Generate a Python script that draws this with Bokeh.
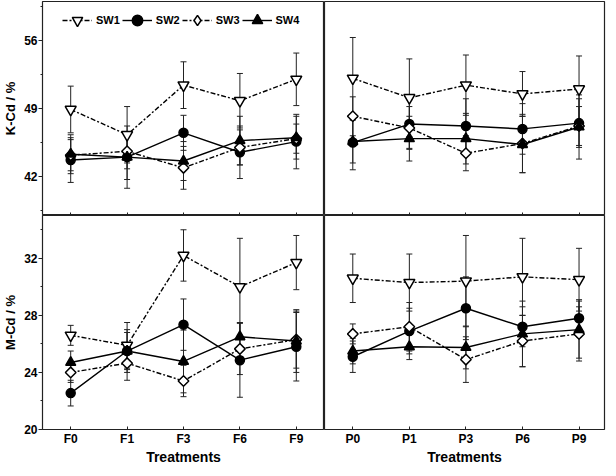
from bokeh.plotting import figure
from bokeh.layouts import gridplot
from bokeh.models import (ColumnDataSource, Whisker, TeeHead, FixedTicker, Range1d,
                          CustomLabelingPolicy, Legend, LegendItem)
from bokeh.embed import file_html
from bokeh.resources import INLINE
import math

# ---------------- data ----------------
cats_F = ["F0", "F1", "F3", "F6", "F9"]
cats_P = ["P0", "P1", "P3", "P6", "P9"]
series = ["SW1", "SW2", "SW3", "SW4"]

# K-Cd / %
K_F_SW1 = [48.9, 46.3, 51.4, 49.8, 52.0]
K_F_SW2 = [43.7, 44.0, 46.5, 44.5, 45.6]
K_F_SW3 = [44.2, 44.6, 42.9, 45.0, 45.9]
K_F_SW4 = [44.3, 44.0, 43.6, 45.7, 46.0]
K_F_SW1_err = [2.4, 2.9, 2.4, 2.8, 2.7]
K_F_SW2_err = [2.3, 3.2, 1.8, 2.7, 2.8]
K_F_SW3_err = [1.6, 1.8, 2.2, 1.8, 1.5]
K_F_SW4_err = [2.0, 2.3, 2.0, 2.5, 2.2]

K_P_SW1 = [52.1, 50.1, 51.4, 50.5, 51.0]
K_P_SW2 = [45.5, 47.4, 47.2, 46.9, 47.5]
K_P_SW3 = [48.2, 47.0, 44.4, 45.4, 47.2]
K_P_SW4 = [45.6, 45.9, 45.9, 45.3, 47.1]
K_P_SW1_err = [4.2, 4.0, 3.1, 2.3, 3.4]
K_P_SW2_err = [2.8, 2.5, 2.8, 2.6, 2.5]
K_P_SW3_err = [2.0, 2.2, 1.8, 3.0, 2.0]
K_P_SW4_err = [2.2, 2.3, 2.6, 2.9, 3.3]

# M-Cd / %
M_F_SW1 = [26.6, 25.9, 32.2, 30.0, 31.7]
M_F_SW2 = [22.55, 25.5, 27.35, 24.86, 25.8]
M_F_SW3 = [24.0, 24.65, 23.4, 25.65, 26.3]
M_F_SW4 = [24.7, 25.5, 24.77, 26.5, 26.2]
M_F_SW1_err = [0.7, 1.6, 1.8, 3.4, 1.9]
M_F_SW2_err = [0.9, 1.5, 1.8, 2.6, 2.4]
M_F_SW3_err = [0.7, 1.2, 1.1, 1.8, 2.0]
M_F_SW4_err = [0.8, 1.3, 2.2, 1.0, 2.2]

M_P_SW1 = [30.6, 30.3, 30.4, 30.7, 30.5]
M_P_SW2 = [25.1, 26.9, 28.5, 27.2, 27.8]
M_P_SW3 = [26.7, 27.2, 24.9, 26.2, 26.7]
M_P_SW4 = [25.5, 25.8, 25.75, 26.7, 27.0]
M_P_SW1_err = [1.7, 2.0, 3.2, 2.7, 2.2]
M_P_SW2_err = [1.1, 1.6, 2.2, 1.4, 1.3]
M_P_SW3_err = [0.7, 1.7, 1.6, 1.8, 1.9]
M_P_SW4_err = [0.9, 0.9, 1.5, 2.3, 2.0]

K_ticks = [42, 49, 56]
K_minor = [38.5, 45.5, 52.5, 59.5]
M_ticks = [20, 24, 28, 32]
M_minor = [22, 26, 30, 34]

# ---------------- style ----------------
FONT = "Liberation Sans"
styles = {
    "SW1": dict(marker="inverted_triangle", size=11, fill="white", dash="5 2 2 2", angle=0),
    "SW2": dict(marker="circle", size=9, fill="black", dash="solid", angle=0),
    "SW3": dict(marker="square", size=7.5, fill="white", dash="5 2 2 2", angle=math.pi / 4),
    "SW4": dict(marker="triangle", size=10, fill="black", dash="solid", angle=0),
}
legend_markers = {"SW1": "inverted_triangle", "SW2": "circle", "SW3": "diamond", "SW4": "triangle"}

FH = 214
INK = "#222222"


def panel(cats, vals, errs, yr, yticks, yminor, left, bottom, legend=False, yaxis_label=""):
    xend = 4.5 if left else 4.45
    p = figure(
        frame_width=282 if left else 280,
        frame_height=FH,
        x_range=Range1d(-0.5, xend),
        y_range=Range1d(*yr),
        output_backend="svg",
        toolbar_location=None,
        y_axis_location="left" if left else None,
        min_border_left=0,
        min_border_right=0 if left else 2,
        min_border_top=0 if bottom else 1,
        min_border_bottom=0,
        background_fill_color="white",
        border_fill_color="white",
    )
    p.outline_line_color = INK
    p.outline_line_width = 1.2
    p.xgrid.visible = False
    p.ygrid.visible = False

    xs = list(range(len(cats)))
    # x axis
    xa = p.xaxis[0]
    xa.ticker = FixedTicker(ticks=xs)
    xa.major_label_overrides = {i: c for i, c in enumerate(cats)}
    xa.axis_line_color = None
    xa.major_tick_in = 3
    xa.major_tick_out = 0
    xa.major_tick_line_color = INK
    xa.minor_tick_line_color = None
    if bottom:
        xa.major_label_text_font = FONT
        xa.major_label_text_font_style = "bold"
        xa.major_label_text_font_size = "12px"
        xa.major_label_text_color = "black"
        xa.major_label_standoff = 2
        xa.axis_label = "Treatments"
        xa.axis_label_text_font = FONT
        xa.axis_label_text_font_style = "bold"
        xa.axis_label_text_font_size = "14px"
        xa.axis_label_text_color = "black"
        xa.axis_label_standoff = 0
    else:
        # upper panels: tick marks only, no tick labels
        xa.major_label_policy = CustomLabelingPolicy(code="return []")
        xa.major_label_text_font_size = "0px"
        xa.major_label_standoff = 0

    if left:
        ya = p.yaxis[0]
        ya.ticker = FixedTicker(ticks=yticks, minor_ticks=yminor)
        ya.axis_line_color = None
        ya.major_tick_in = 0
        ya.major_tick_out = 4
        ya.minor_tick_in = 0
        ya.minor_tick_out = 2
        ya.major_tick_line_color = INK
        ya.minor_tick_line_color = INK
        ya.major_label_text_font = FONT
        ya.major_label_text_font_style = "bold"
        ya.major_label_text_font_size = "12px"
        ya.major_label_text_color = "black"
        ya.major_label_standoff = 1
        ya.axis_label = yaxis_label
        ya.axis_label_text_font = FONT
        ya.axis_label_text_font_style = "bold"
        ya.axis_label_text_font_size = "13px"
        ya.axis_label_text_color = "black"
        ya.axis_label_standoff = 3

    for name, v, e in zip(series, vals, errs):
        src = ColumnDataSource(dict(
            x=xs, y=v,
            upper=[a + b for a, b in zip(v, e)],
            lower=[a - b for a, b in zip(v, e)],
        ))
        w = Whisker(source=src, base="x", upper="upper", lower="lower",
                    line_color=INK, line_width=1,
                    upper_head=TeeHead(size=6, line_color=INK, line_width=1),
                    lower_head=TeeHead(size=6, line_color=INK, line_width=1))
        p.add_layout(w)

    items = []
    for name, v in zip(series, vals):
        st = styles[name]
        src = ColumnDataSource(dict(x=xs, y=v))
        lr = p.line("x", "y", source=src, line_color="black", line_width=1.4,
                    line_dash=st["dash"])
        sr = p.scatter("x", "y", source=src, marker=st["marker"], size=st["size"],
                       angle=st["angle"], fill_color=st["fill"], line_color="black",
                       line_width=1.5)
        if legend:
            if st["angle"] != 0:
                # legend keys are drawn unrotated: use an upright diamond key
                kr = p.scatter("x", "y", source=src, marker=legend_markers[name], size=10,
                               fill_color=st["fill"], line_color="black", line_width=1.5,
                               visible=False)
                items.append(LegendItem(label=name, renderers=[lr, kr]))
            else:
                items.append(LegendItem(label=name, renderers=[lr, sr]))

    if legend:
        lg = Legend(items=items)
        lg.orientation = "horizontal"
        lg.location = (20, FH - 32)
        lg.border_line_color = None
        lg.background_fill_alpha = 0
        lg.inactive_fill_alpha = 0
        lg.padding = 0
        lg.margin = 0
        lg.spacing = 2
        lg.glyph_width = 30
        lg.glyph_height = 26
        lg.label_standoff = 4
        lg.label_text_font = FONT
        lg.label_text_font_style = "bold"
        lg.label_text_font_size = "11px"
        lg.label_text_color = "black"
        lg.label_height = 26
        p.add_layout(lg)
    return p


tl = panel(cats_F, [K_F_SW1, K_F_SW2, K_F_SW3, K_F_SW4],
           [K_F_SW1_err, K_F_SW2_err, K_F_SW3_err, K_F_SW4_err],
           (38, 60), K_ticks, K_minor, left=True, bottom=False, legend=True,
           yaxis_label="K-Cd / %")
tr = panel(cats_P, [K_P_SW1, K_P_SW2, K_P_SW3, K_P_SW4],
           [K_P_SW1_err, K_P_SW2_err, K_P_SW3_err, K_P_SW4_err],
           (38, 60), K_ticks, K_minor, left=False, bottom=False)
bl = panel(cats_F, [M_F_SW1, M_F_SW2, M_F_SW3, M_F_SW4],
           [M_F_SW1_err, M_F_SW2_err, M_F_SW3_err, M_F_SW4_err],
           (20, 35), M_ticks, M_minor, left=True, bottom=True,
           yaxis_label="M-Cd / %")
br = panel(cats_P, [M_P_SW1, M_P_SW2, M_P_SW3, M_P_SW4],
           [M_P_SW1_err, M_P_SW2_err, M_P_SW3_err, M_P_SW4_err],
           (20, 35), M_ticks, M_minor, left=False, bottom=True)

grid = gridplot([[tl, tr], [bl, br]], toolbar_location=None)

open("out.html", "w").write(file_html(grid, INLINE))
